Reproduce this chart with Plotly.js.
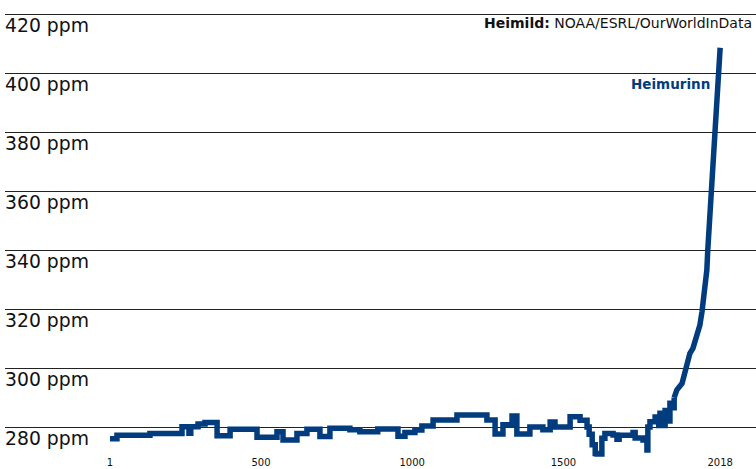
<!DOCTYPE html>
<html>
<head>
<meta charset="utf-8">
<script src="https://cdn.plot.ly/plotly-3.0.1.min.js"></script>
<style>html,body{margin:0;padding:0;background:#fff;}#chart{width:756px;height:469px;}</style>
</head>
<body>
<div id="chart"></div>
<script>
// Pre-industrial (stepped ice-core record)
const yearsPre = [1, 24, 133, 239, 262, 268, 292, 315, 355, 398, 487, 553, 573, 619, 652, 695, 728, 794, 827, 886, 953, 976, 1009, 1032, 1069, 1148, 1247, 1274, 1300, 1330, 1346, 1389, 1432, 1456, 1472, 1522, 1555, 1578, 1585, 1595, 1605, 1611, 1627, 1637, 1664, 1677, 1684, 1730, 1737, 1763, 1776, 1779, 1786, 1803, 1815, 1819, 1829, 1836, 1845, 1852, 1862, 1866];
const co2Pre = [276.0, 277.2, 277.8, 280.1, 277.9, 280.1, 281.0, 281.5, 277.0, 279.2, 276.5, 278.4, 275.6, 277.8, 279.2, 276.8, 279.6, 279.1, 278.4, 279.3, 276.9, 278.1, 279.0, 280.3, 282.4, 284.1, 282.4, 277.6, 280.8, 283.7, 277.6, 280.0, 279.1, 281.7, 280.0, 283.5, 282.3, 280.0, 277.5, 274.0, 271.0, 270.8, 276.2, 277.8, 277.3, 275.8, 277.2, 278.1, 276.3, 275.6, 272.2, 280.0, 281.8, 283.4, 280.5, 284.7, 280.5, 285.6, 282.0, 288.1, 286.5, 290.0];
// Industrial era
const yearsModern = [1866, 1875, 1892, 1902, 1912, 1918, 1928, 1941, 1951, 1958, 1961, 1968, 1974, 1977, 1988, 1998, 2011, 2018];
const co2Modern = [290.0, 292.6, 294.8, 298.2, 301.6, 305.0, 306.7, 311.2, 314.6, 319.2, 322.0, 326.5, 333.3, 340.0, 360.0, 380.0, 400.0, 408.8];

const xTickVals = [1, 500, 1000, 1500, 2018];
const xTickText = ['1', '500', '1000', '1500', '2018'];
const yTickVals = [280, 300, 320, 340, 360, 380, 400, 420];
const yTickText = ['280 ppm', '300 ppm', '320 ppm', '340 ppm', '360 ppm', '380 ppm', '400 ppm', '420 ppm'];

const lineColor = '#003c7e';
const font = '"DejaVu Sans", "Open Sans", sans-serif';

const traces = [
  {x: yearsPre, y: co2Pre, type: 'scatter', mode: 'lines',
   line: {color: lineColor, width: 5.5, shape: 'hv'}, hoverinfo: 'skip'},
  {x: yearsModern, y: co2Modern, type: 'scatter', mode: 'lines',
   line: {color: lineColor, width: 5.5, shape: 'linear'}, hoverinfo: 'skip'}
];

const layout = {
  width: 756, height: 469,
  margin: {l: 5, r: 0, t: 0, b: 0},
  paper_bgcolor: '#ffffff', plot_bgcolor: '#ffffff',
  showlegend: false,
  font: {family: font, color: '#111111'},
  xaxis: {
    range: [-346.1, 2136.5],
    tickvals: xTickVals, ticktext: xTickText,
    ticklabelposition: 'inside',
    ticklabelstandoff: -2,
    tickfont: {family: font, size: 10, color: '#111111'},
    showgrid: false, zeroline: false, showline: false, ticks: '',
    fixedrange: true
  },
  yaxis: {
    range: [265.74, 425.0],
    tickvals: yTickVals, ticktext: yTickText,
    ticklabelposition: 'inside bottom',
    ticklabelshift: -2,
    ticklabelstandoff: -3,
    tickfont: {family: font, size: 18.8, color: '#111111'},
    showgrid: true, gridcolor: '#222222', gridwidth: 1,
    zeroline: false, showline: false, ticks: '',
    fixedrange: true
  },
  annotations: [
    {xref: 'paper', yref: 'paper', x: 0.997, y: 0.951, xanchor: 'right', yanchor: 'middle',
     text: '<b>Heimild:</b> NOAA/ESRL/OurWorldInData', showarrow: false,
     font: {family: font, size: 14, color: '#111111'}},
    {xref: 'x', yref: 'y', x: 1991, y: 396.5, xanchor: 'right', yanchor: 'middle',
     text: '<b>Heimurinn</b>', showarrow: false,
     font: {family: font, size: 13.5, color: lineColor}}
  ]
};

Plotly.newPlot('chart', traces, layout, {displayModeBar: false, staticPlot: true});
</script>
</body>
</html>
